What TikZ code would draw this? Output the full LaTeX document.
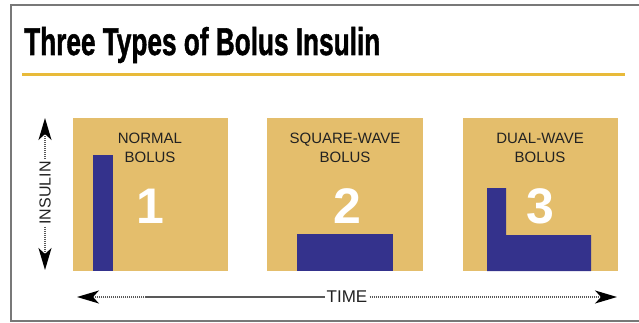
\documentclass[tikz,border=0pt]{standalone}
\usepackage{fontspec}
\setmainfont{Liberation Sans}
\newfontfamily\titlefont[FakeBold=1.5]{Liberation Sans Bold}
\usetikzlibrary{arrows.meta}
\definecolor{panelgold}{RGB}{228,190,108}
\definecolor{rulegold}{RGB}{232,186,58}
\definecolor{barblue}{RGB}{52,50,140}
\definecolor{framegray}{RGB}{120,120,120}
\definecolor{labelgray}{RGB}{34,34,34}
\tikzset{
  panel/.style={fill=panelgold, draw=none, inner sep=0pt, outer sep=0pt, anchor=north west},
  barbox/.style={fill=barblue, draw=none, inner sep=0pt, outer sep=0pt, anchor=north west},
  plabel/.style={align=center, inner sep=0pt, anchor=north, text=labelgray,
    font=\fontsize{15}{18.5}\selectfont},
  bignum/.style={inner sep=0pt, anchor=base, text=white, font=\fontsize{50}{50}\selectfont\bfseries},
  axislabel/.style={inner sep=2pt, text=labelgray, font=\fontsize{16}{16}\selectfont},
  dotline/.style={draw=gray!70!black, line width=1.6pt, dash pattern=on 1.2pt off 0.8pt},
  bigtip/.style={arrows={-Stealth[length=22pt,width=13pt,inset=6pt,color=black]}}
}
\begin{document}
\begin{tikzpicture}[x=1pt,y=-1pt]
\useasboundingbox (0,0) rectangle (639,323);
% frame
\draw[framegray, line width=2pt] (639,5) -- (10.5,5) -- (10.5,321) -- (639,321);
% title
\node[anchor=base west, inner sep=0pt] (title) at (24,55)
  {\resizebox{356pt}{28pt}{\titlefont Three Types of Bolus Insulin}};
\draw[rulegold, line width=3pt] (22,75) -- (625,75);
% panels
\node[panel, minimum width=155pt, minimum height=153pt] (p1) at (73,118) {};
\node[panel, minimum width=156pt, minimum height=153pt] (p2) at (267,118) {};
\node[panel, minimum width=155pt, minimum height=153pt] (p3) at (463,118) {};
% bars
\node[barbox, minimum width=20pt, minimum height=116pt] (b1) at (93,155) {};
\node[barbox, minimum width=96pt, minimum height=37pt] (b2) at (297,234) {};
\fill[barblue] (487,188) -- (506,188) -- (506,235) -- (591,235) -- (591,271) -- (487,271) -- cycle;
% labels
\node[plabel] (l1) at (150,133) {NORMAL\\BOLUS};
\node[plabel] (l2) at (345,133) {SQUARE-WAVE\\BOLUS};
\node[plabel] (l3) at (540,133) {DUAL-WAVE\\BOLUS};
\node[bignum] (n1) at (150,223) {1};
\node[bignum] (n2) at (347,223) {2};
\node[bignum] (n3) at (540,223) {3};
% insulin axis
\coordinate (itop) at (45,118);
\coordinate (ibot) at (45,270);
\node[axislabel, rotate=90] (ilab) at (45,193) {INSULIN};
\draw[dotline, bigtip] (ilab.east) -- (itop);
\draw[dotline, bigtip] (ilab.west) -- (ibot);
% time axis
\coordinate (tleft) at (77,297);
\coordinate (tright) at (617,297);
\node[axislabel, font=\fontsize{17}{17}\selectfont] (tlab) at (347,297) {TIME};
\draw[dotline, bigtip] (tlab.west) -- (tleft);
\draw[dotline, bigtip] (tlab.east) -- (tright);
\end{tikzpicture}
\end{document}
